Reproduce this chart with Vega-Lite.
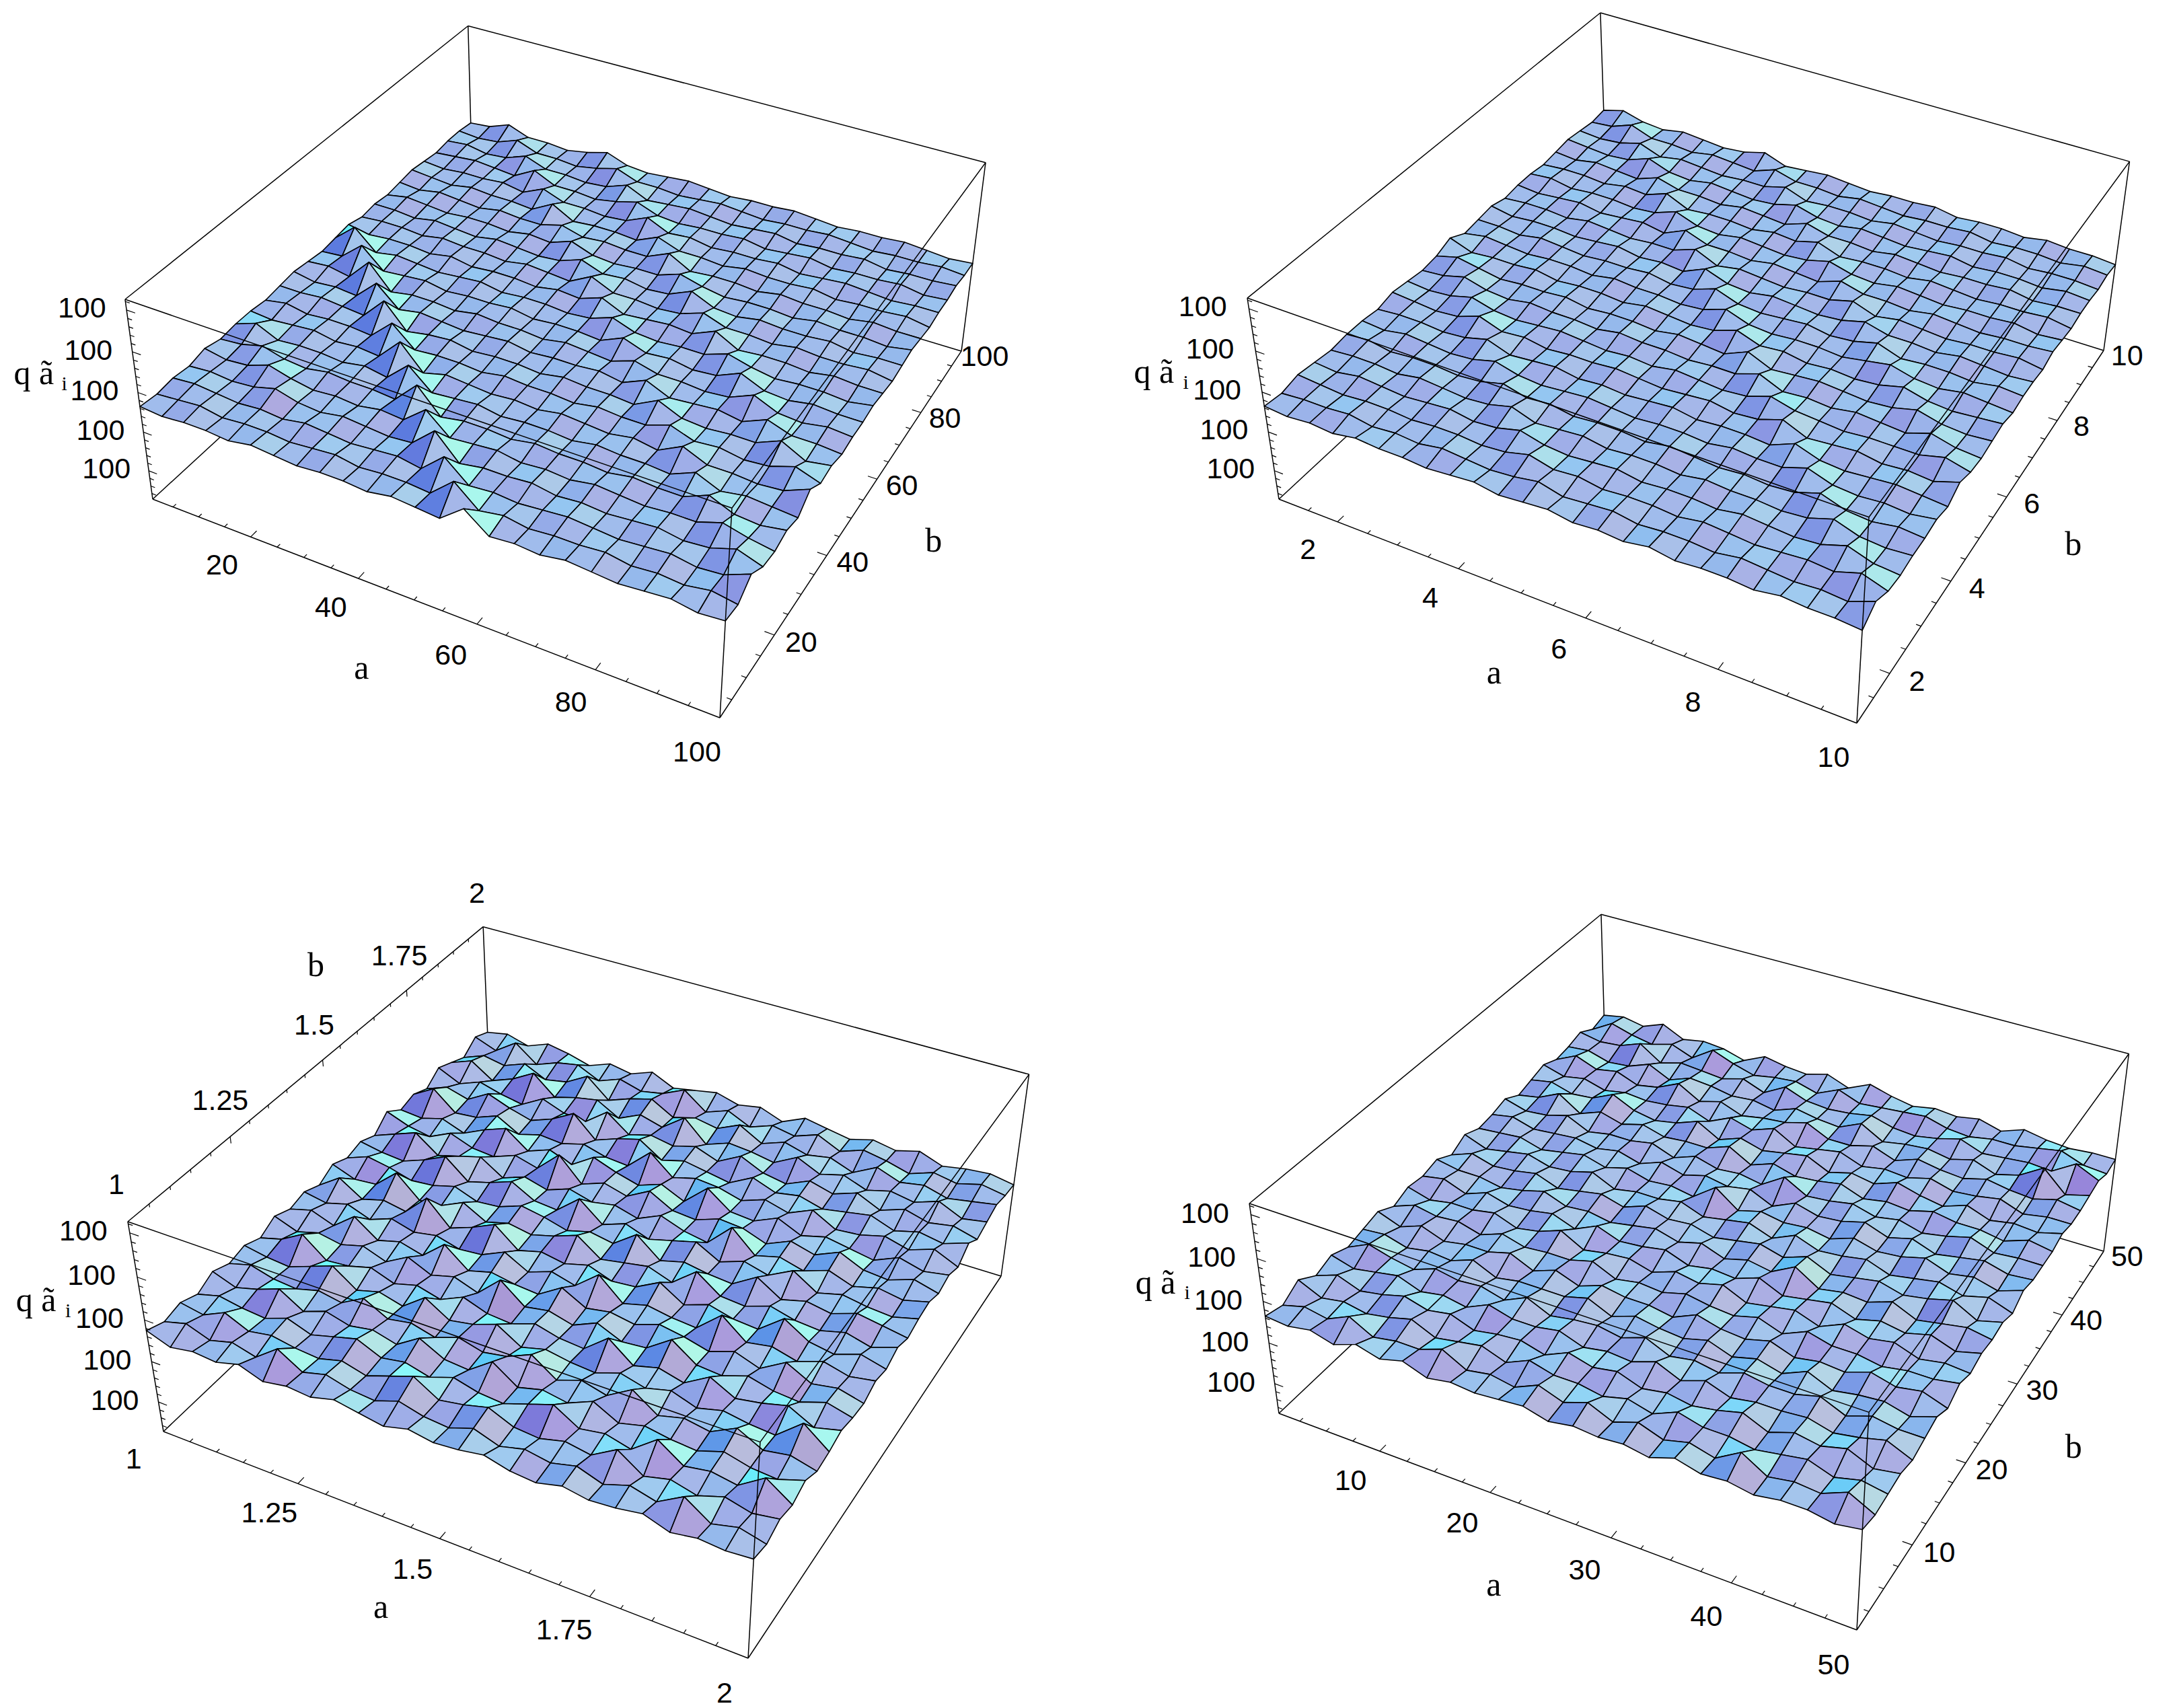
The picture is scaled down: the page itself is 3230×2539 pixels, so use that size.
{"$schema":"https://vega.github.io/schema/vega-lite/v6.json","width":3230,"height":2539,"padding":0,"autosize":{"type":"none"},"background":"white","config":{"view":{"stroke":null}},
"datasets":{
"cams":[{"p":1,"m":[725.2,627.6,-52.8,227,207.5,-372.5,-325.1,742,-0.1101,0.2156,-0.0632]},{"p":2,"m":[592.8,989.1,-174,1901,229.3,-391,-329.3,742,-0.09644,0.21027,-0.0685]},{"p":3,"m":[753.4,631.6,-67,243,80.7,-133.3,-445.5,2128,-0.10398,0.19802,-0.0735]},{"p":4,"m":[586.9,991.7,-165.4,1901,83.1,-114.4,-429,2101,-0.09859,0.21134,-0.0654]}],
"edges":[{"f":0,"u":0,"v":0,"w":0,"U":1,"V":0,"W":0},{"f":0,"u":1,"v":0,"w":0,"U":1,"V":1,"W":0},{"f":0,"u":0,"v":0,"w":0,"U":0,"V":1,"W":0},{"f":0,"u":0,"v":1,"w":0,"U":1,"V":1,"W":0},{"f":0,"u":0,"v":0,"w":0,"U":0,"V":0,"W":1},{"f":0,"u":1,"v":1,"w":0,"U":1,"V":1,"W":1},{"f":0,"u":0,"v":1,"w":0,"U":0,"V":1,"W":1},{"f":0,"u":0,"v":0,"w":1,"U":0,"V":1,"W":1},{"f":0,"u":0,"v":1,"w":1,"U":1,"V":1,"W":1},{"f":1,"u":0,"v":0,"w":1,"U":1,"V":0,"W":1},{"f":1,"u":1,"v":0,"w":1,"U":1,"V":1,"W":1},{"f":1,"u":1,"v":0,"w":0,"U":1,"V":0,"W":1}],
"ticks":[{"ps":[1,4],"ax":"a","k":2,"t":[0.19,0.39,0.6,0.8]},{"ps":[1,4],"ax":"a","k":1,"t":[0.04,0.09,0.14,0.24,0.29,0.34,0.44,0.49,0.54,0.65,0.7,0.75,0.85,0.9,0.95]},{"ps":[1,4],"ax":"b","k":2,"t":[0.19,0.39,0.6,0.8]},{"ps":[1,4],"ax":"b","k":1,"t":[0.04,0.09,0.14,0.24,0.29,0.34,0.44,0.49,0.54,0.65,0.7,0.75,0.85,0.9,0.95]},{"ps":[2],"ax":"a","k":2,"t":[0.111,0.333,0.556,0.778]},{"ps":[2],"ax":"a","k":1,"t":[0.056,0.167,0.222,0.278,0.389,0.444,0.5,0.611,0.667,0.722,0.833,0.889,0.944]},{"ps":[2],"ax":"b","k":2,"t":[0.111,0.333,0.556,0.778]},{"ps":[2],"ax":"b","k":1,"t":[0.056,0.167,0.222,0.278,0.389,0.444,0.5,0.611,0.667,0.722,0.833,0.889,0.944]},{"ps":[3],"ax":"a","k":2,"t":[0.25,0.5,0.75]},{"ps":[3],"ax":"a","k":1,"t":[0.05,0.1,0.15,0.2,0.3,0.35,0.4,0.45,0.55,0.6,0.65,0.7,0.8,0.85,0.9,0.95]},{"ps":[3],"ax":"c","k":2,"t":[0.25,0.5,0.75]},{"ps":[3],"ax":"c","k":1,"t":[0.05,0.1,0.15,0.2,0.3,0.35,0.4,0.45,0.55,0.6,0.65,0.7,0.8,0.85,0.9,0.95]},{"ps":[1,2,3,4],"ax":"z","k":2,"t":[0.15,0.35,0.55,0.75,0.95]},{"ps":[1,2,3,4],"ax":"z","k":1,"t":[0.03,0.07,0.11,0.19,0.23,0.27,0.31,0.39,0.43,0.47,0.51,0.59,0.63,0.67,0.71,0.79,0.83,0.87,0.91,0.99]}],
"labels":[{"p":1,"ax":"a","t":0.19,"s":"20"},{"p":1,"ax":"a","t":0.39,"s":"40"},{"p":1,"ax":"a","t":0.6,"s":"60"},{"p":1,"ax":"a","t":0.8,"s":"80"},{"p":1,"ax":"a","t":1,"s":"100"},{"p":1,"ax":"b","t":0.19,"s":"20"},{"p":1,"ax":"b","t":0.39,"s":"40"},{"p":1,"ax":"b","t":0.6,"s":"60"},{"p":1,"ax":"b","t":0.8,"s":"80"},{"p":1,"ax":"b","t":1,"s":"100"},{"p":2,"ax":"a","t":0.111,"s":"2"},{"p":2,"ax":"a","t":0.333,"s":"4"},{"p":2,"ax":"a","t":0.556,"s":"6"},{"p":2,"ax":"a","t":0.778,"s":"8"},{"p":2,"ax":"a","t":1,"s":"10"},{"p":2,"ax":"b","t":0.111,"s":"2"},{"p":2,"ax":"b","t":0.333,"s":"4"},{"p":2,"ax":"b","t":0.556,"s":"6"},{"p":2,"ax":"b","t":0.778,"s":"8"},{"p":2,"ax":"b","t":1,"s":"10"},{"p":3,"ax":"a","t":0,"s":"1"},{"p":3,"ax":"a","t":0.25,"s":"1.25"},{"p":3,"ax":"a","t":0.5,"s":"1.5"},{"p":3,"ax":"a","t":0.75,"s":"1.75"},{"p":3,"ax":"a","t":1,"s":"2"},{"p":3,"ax":"c","t":0,"s":"1"},{"p":3,"ax":"c","t":0.25,"s":"1.25"},{"p":3,"ax":"c","t":0.5,"s":"1.5"},{"p":3,"ax":"c","t":0.75,"s":"1.75"},{"p":3,"ax":"c","t":1,"s":"2"},{"p":4,"ax":"a","t":0.19,"s":"10"},{"p":4,"ax":"a","t":0.39,"s":"20"},{"p":4,"ax":"a","t":0.6,"s":"30"},{"p":4,"ax":"a","t":0.8,"s":"40"},{"p":4,"ax":"a","t":1,"s":"50"},{"p":4,"ax":"b","t":0.19,"s":"10"},{"p":4,"ax":"b","t":0.39,"s":"20"},{"p":4,"ax":"b","t":0.6,"s":"30"},{"p":4,"ax":"b","t":0.8,"s":"40"},{"p":4,"ax":"b","t":1,"s":"50"},{"p":1,"ax":"z","t":0.95,"s":"100"},{"p":1,"ax":"z","t":0.75,"s":"100"},{"p":1,"ax":"z","t":0.55,"s":"100"},{"p":1,"ax":"z","t":0.35,"s":"100"},{"p":1,"ax":"z","t":0.15,"s":"100"},{"p":2,"ax":"z","t":0.95,"s":"100"},{"p":2,"ax":"z","t":0.75,"s":"100"},{"p":2,"ax":"z","t":0.55,"s":"100"},{"p":2,"ax":"z","t":0.35,"s":"100"},{"p":2,"ax":"z","t":0.15,"s":"100"},{"p":3,"ax":"z","t":0.95,"s":"100"},{"p":3,"ax":"z","t":0.75,"s":"100"},{"p":3,"ax":"z","t":0.55,"s":"100"},{"p":3,"ax":"z","t":0.35,"s":"100"},{"p":3,"ax":"z","t":0.15,"s":"100"},{"p":4,"ax":"z","t":0.95,"s":"100"},{"p":4,"ax":"z","t":0.75,"s":"100"},{"p":4,"ax":"z","t":0.55,"s":"100"},{"p":4,"ax":"z","t":0.35,"s":"100"},{"p":4,"ax":"z","t":0.15,"s":"100"}],
"titles":[{"p":1,"ax":"a","s":"a"},{"p":1,"ax":"b","s":"b"},{"p":1,"ax":"z","s":"q  ã"},{"p":1,"ax":"i","s":"i"},{"p":2,"ax":"a","s":"a"},{"p":2,"ax":"b","s":"b"},{"p":2,"ax":"z","s":"q  ã"},{"p":2,"ax":"i","s":"i"},{"p":3,"ax":"a","s":"a"},{"p":3,"ax":"c","s":"b"},{"p":3,"ax":"z","s":"q  ã"},{"p":3,"ax":"i","s":"i"},{"p":4,"ax":"a","s":"a"},{"p":4,"ax":"b","s":"b"},{"p":4,"ax":"z","s":"q  ã"},{"p":4,"ax":"i","s":"i"}],
"mesh":[47,48,52,48,48,47,49,52,48,47,48,49,48,47,48,48,49,48,47,48,48,49,48,47,48,
48,47,48,52,48,48,47,49,52,48,48,47,48,49,48,47,48,48,49,48,47,48,48,49,48,
48,49,47,48,52,48,48,47,48,52,47,48,49,48,47,48,49,47,48,48,49,47,48,48,49,
47,48,49,48,47,53,48,48,47,49,52,48,47,48,48,49,47,48,49,47,48,48,49,47,48,
48,47,48,48,49,47,52,48,48,47,48,53,48,49,47,48,48,49,47,48,49,48,47,48,48,
49,48,47,49,48,48,47,53,47,48,48,47,52,48,48,47,49,48,48,49,47,48,48,49,47,
48,47,49,48,47,49,48,48,51,48,49,48,48,53,47,48,48,47,49,48,48,47,49,48,48,
47,49,48,47,48,48,47,49,48,52,48,47,48,48,52,49,47,48,48,47,49,48,48,47,49,
48,48,47,49,48,47,49,48,47,48,52,48,49,47,48,53,48,47,49,48,48,49,47,48,48,
47,48,48,47,49,48,48,47,49,48,47,53,48,48,47,48,52,48,48,47,49,48,48,49,47,
49,47,48,48,47,49,47,48,48,47,49,48,52,47,48,49,48,53,47,48,48,47,49,48,48,
48,57,47,49,48,47,48,49,47,48,48,47,48,52,48,47,48,48,52,49,47,48,48,47,49,
47,48,57,47,48,49,47,48,48,49,47,48,48,47,52,48,49,47,48,53,48,47,49,48,48,
48,49,47,58,46,48,48,47,49,48,48,47,49,48,47,51,48,48,47,48,53,48,47,49,48,
49,47,48,47,57,47,49,48,47,48,49,47,48,48,49,47,52,47,48,49,47,52,48,48,47,
48,48,49,48,47,58,46,48,49,47,48,48,47,49,48,48,47,53,48,47,48,48,53,47,49,
47,49,47,48,48,47,57,47,48,48,47,49,48,48,47,49,48,48,52,48,49,47,48,52,48,
48,47,48,49,47,48,47,58,46,49,48,47,48,47,49,48,47,49,47,53,48,48,47,48,53,
48,52,47,48,48,47,49,47,57,47,48,49,47,48,48,47,49,48,48,47,52,47,49,48,47,
47,48,51,48,47,49,48,48,47,58,46,48,48,47,49,48,48,47,49,48,48,53,48,47,49,
49,47,48,52,49,47,48,47,49,48,57,47,48,49,47,48,47,49,48,47,48,48,52,49,47,
47,48,47,48,51,48,47,49,48,47,48,58,46,48,48,49,47,48,47,48,49,47,48,52,48,
48,49,48,47,48,47,49,48,47,48,49,47,57,47,48,47,48,49,48,47,48,49,47,48,53,
47,48,49,47,48,48,47,48,49,47,48,48,47,57,47,49,47,48,48,49,47,48,47,49,47,
48,47,48,48,47,49,48,47,48,48,47,49,48,47,56,47,48,47,49,48,47,48,49,47,48,
48,51,48,47,49,48,47,48,51,47,48,49,48,47,48,48,49,47,48,48,47,49,48,48,47,
47,48,52,48,48,47,49,48,47,51,48,48,47,49,48,47,48,48,49,47,48,48,47,49,48,
48,47,48,51,47,49,48,47,48,48,51,47,48,48,47,49,48,47,48,48,49,47,48,48,47,
49,48,47,48,52,48,47,49,48,47,48,51,48,47,49,48,47,48,49,47,48,48,47,49,48,
48,47,49,48,47,51,48,48,47,49,48,47,51,48,48,47,49,48,47,48,48,49,47,48,48,
47,48,48,47,49,48,52,47,48,48,47,49,48,51,47,48,48,47,49,48,47,48,48,49,47,
48,49,47,48,48,47,48,52,48,47,49,48,47,48,51,48,47,49,48,47,48,48,49,47,48,
48,47,48,49,47,48,49,47,52,48,48,47,49,48,47,51,48,48,47,49,48,47,48,48,49,
47,48,48,47,49,48,47,48,48,52,47,49,48,47,48,48,51,47,49,48,47,48,48,49,47,
49,47,48,48,47,48,49,47,48,47,52,48,47,49,48,47,48,51,48,48,47,49,48,47,48,
48,48,47,49,48,47,48,48,49,47,48,52,48,47,48,49,47,48,51,47,48,48,47,49,48,
47,49,48,47,48,48,47,49,48,48,47,48,52,48,47,48,48,47,49,51,48,47,49,48,47,
51,47,48,48,49,47,48,48,47,49,48,47,48,52,48,49,47,48,47,48,51,48,47,48,49,
48,51,49,47,48,48,49,47,48,48,47,49,48,47,52,47,48,49,48,47,48,51,48,47,48,
47,48,51,48,47,49,48,48,47,49,48,48,47,48,48,52,47,48,47,49,48,47,51,48,47,
48,47,48,51,48,47,48,49,48,47,48,47,49,48,47,48,52,49,48,47,48,48,48,51,48,
49,48,47,48,52,48,49,47,48,48,49,48,47,48,49,47,48,52,47,48,49,47,48,47,51,
47,48,48,47,48,51,47,48,49,47,48,47,48,49,47,48,48,47,52,48,47,48,49,48,47,
48,47,49,48,47,48,51,48,47,48,49,48,47,48,48,47,49,48,48,52,48,47,48,47,49,
48,49,47,48,48,47,48,51,48,49,47,48,48,47,49,48,47,48,47,48,52,48,47,49,48,
47,48,48,47,49,48,47,48,51,47,48,49,47,48,48,47,49,48,48,47,48,52,48,47,48,
48,47,49,48,47,48,49,47,48,51,48,47,48,49,47,48,48,47,49,48,47,48,52,48,47,
49,48,47,48,48,47,48,48,47,48,51,48,49,47,48,48,47,49,48,47,48,49,48,52,48,
47,48,48,49,47,48,47,49,48,47,48,50,47,48,49,47,48,48,47,49,48,47,48,47,52,
48,47,48,47,49,48,48,47,48,49,47,48,49,47,48,47,49,47,48,48,47,49,48,48,47,
47,49,46,50,48,45,49,47,51,46,48,50,47,49,45,50,48,46,49,47,50,46,48,49,47,
50,46,53,45,49,51,46,50,47,49,54,46,50,45,49,47,51,46,50,48,45,49,47,50,48,
45,49,47,51,46,48,54,45,49,52,46,49,47,52,46,50,47,49,45,51,47,49,46,48,50,
48,52,45,49,55,46,49,51,45,50,47,55,45,49,48,46,52,47,50,46,49,47,51,46,48,
51,46,50,47,45,51,47,46,54,46,49,47,50,46,52,47,45,50,47,51,46,50,47,49,46,
46,50,47,53,49,46,50,56,46,50,53,46,49,47,45,51,47,49,46,48,50,46,49,47,51,
49,55,46,47,51,45,48,47,50,47,46,56,47,50,49,46,50,47,52,46,47,50,47,51,46,
47,46,49,45,50,54,46,50,46,53,49,46,50,45,55,47,46,51,46,49,47,45,50,47,49,
52,48,46,51,47,46,50,47,57,46,50,47,53,47,46,50,49,45,50,47,52,47,46,50,47,
46,50,54,46,49,52,45,49,46,50,47,49,46,51,47,45,56,46,49,46,50,46,49,47,50,
49,47,46,50,55,46,49,53,47,46,55,46,50,46,49,52,46,50,47,53,46,49,47,46,49,
47,51,49,46,47,50,46,47,51,49,46,49,47,55,46,49,47,46,53,46,49,47,51,49,47,
50,46,47,56,46,47,52,46,49,47,50,54,46,48,50,46,55,47,46,50,47,46,49,46,50,
46,53,46,49,47,57,46,50,55,46,49,47,50,46,47,53,46,50,47,46,55,48,46,50,47,
49,47,50,46,50,47,49,46,47,52,46,50,47,56,46,49,47,46,56,47,49,46,50,47,49,
47,50,46,54,46,49,46,55,46,49,47,46,53,47,49,47,51,49,46,50,46,53,47,49,46,
50,46,49,47,50,46,52,47,50,46,56,47,49,46,51,46,47,55,47,46,50,47,46,50,47,
46,49,55,46,47,50,46,49,46,51,47,46,50,47,46,55,46,49,46,53,47,49,52,46,49,
49,47,46,50,54,46,49,46,54,47,49,53,46,49,47,46,50,47,50,46,49,47,46,56,47,
47,50,47,46,49,47,53,47,49,46,50,47,49,54,46,50,47,54,46,49,47,53,47,49,46,
50,46,49,53,46,50,47,49,46,53,47,46,54,46,49,47,52,46,49,47,46,50,47,46,50,
46,49,47,46,50,46,49,52,47,49,46,50,47,46,50,54,47,49,46,55,47,49,47,55,47,
49,47,52,47,49,47,46,49,46,50,54,47,49,52,47,46,49,47,54,46,49,46,50,47,49,
47,50,46,49,46,54,47,50,47,46,50,47,46,50,46,49,47,50,46,50,47,54,46,49,46,
50,46,48,47,50,46,48,47,50,48,46,49,47,48,50,47,46,49,47,48,50,46,48,47,48,
48,50,48,52,47,49,48,45,50,48,47,50,46,51,48,46,48,47,49,46,50,48,47,48,48,
46,52,49,47,50,46,53,49,46,48,49,46,51,47,48,49,50,47,46,48,48,50,52,48,47,
50,48,49,53,46,49,48,47,50,46,52,48,47,48,50,47,46,48,51,47,48,49,48,55,50,
48,49,46,47,51,46,50,49,47,48,46,50,48,47,52,46,48,49,47,50,46,49,56,46,49,
47,52,48,50,46,48,53,47,50,46,48,49,52,47,47,50,46,50,48,47,50,48,47,50,48,
50,47,49,46,48,47,48,50,46,51,48,52,46,48,50,46,48,47,50,47,48,50,46,48,48,
48,50,47,48,53,48,46,48,52,46,50,47,49,51,46,49,47,51,48,46,50,46,48,47,50,
46,48,53,46,50,47,50,47,48,48,52,46,50,47,48,50,46,48,47,50,48,48,46,50,48,
50,47,48,51,46,48,48,50,46,50,47,48,46,53,47,48,50,47,49,46,48,51,47,48,48,
48,50,47,48,49,47,49,46,50,47,50,48,50,45,50,47,48,51,47,50,46,48,50,47,48,
47,48,49,46,48,50,47,50,47,48,46,54,46,49,47,48,46,50,47,48,51,47,49,46,50,
50,46,48,50,47,48,51,46,48,48,50,46,48,50,46,51,47,48,50,46,48,50,47,50,46,
46,50,47,48,50,46,48,50,47,51,48,49,46,48,50,47,51,46,48,50,47,49,52,46,49,
50,48,48,46,48,51,47,48,46,48,50,47,50,46,49,47,53,46,48,47,51,46,48,50,48,
48,50,46,50,47,48,50,46,51,47,48,50,46,48,47,51,46,48,50,46,49,47,50,46,49,
49,46,48,48,50,46,48,52,46,48,49,46,50,48,51,46,48,50,46,51,48,50,46,48,47,
46,50,48,49,46,50,47,48,48,51,46,48,47,50,48,47,50,46,51,48,48,46,48,48,50,
50,46,50,46,48,48,51,46,50,46,50,48,48,46,51,48,47,50,46,48,47,51,48,50,46,
48,49,46,48,47,51,46,48,48,48,51,46,50,48,47,50,46,49,46,51,46,48,49,46,50,
46,51,48,46,50,48,49,46,51,46,48,49,47,51,46,48,46,50,48,48,51,46,50,48,48,
49,46,48,50,46,48,46,51,48,48,50,46,48,47,51,46,50,46,48,48,49,46,48,51,46,
46,50,46,48,51,48,50,46,48,49,46,51,48,50,46,48,46,48,51,46,50,48,51,46,48,
51,46,48,46,48,51,46,48,50,46,51,48,48,46,49,46,51,48,48,46,48,50,46,49,47,
46,49,47,52,46,48,48,52,46,48,46,51,47,51,46,50,46,49,46,53,46,48,47,52,46,
48,47,49,46,50,47,50,46,48,47,48,49,46,48,47,48,46,50,47,48,46,48,48,46,48]},
"encoding":{"x":{"field":"x","type":"quantitative","scale":{"domain":[0,3230],"nice":false,"zero":false},"axis":null},"y":{"field":"y","type":"quantitative","scale":{"domain":[2539,0],"nice":false,"zero":false},"axis":null}},
"layer":[
{"data":{"name":"edges"},"transform":[{"filter":"datum.f==0"},{"calculate":"[1,2,3,4]","as":"p"},{"flatten":["p"]},{"lookup":"p","from":{"data":{"name":"cams"},"key":"p","fields":["m"]}},
{"calculate":"(datum.m[0]*datum.u+datum.m[1]*datum.v+datum.m[2]*datum.w+datum.m[3])/(datum.m[8]*datum.u+datum.m[9]*datum.v+datum.m[10]*datum.w+1)","as":"x"},{"calculate":"(datum.m[4]*datum.u+datum.m[5]*datum.v+datum.m[6]*datum.w+datum.m[7])/(datum.m[8]*datum.u+datum.m[9]*datum.v+datum.m[10]*datum.w+1)","as":"y"},{"calculate":"(datum.m[0]*datum.U+datum.m[1]*datum.V+datum.m[2]*datum.W+datum.m[3])/(datum.m[8]*datum.U+datum.m[9]*datum.V+datum.m[10]*datum.W+1)","as":"x2"},{"calculate":"(datum.m[4]*datum.U+datum.m[5]*datum.V+datum.m[6]*datum.W+datum.m[7])/(datum.m[8]*datum.U+datum.m[9]*datum.V+datum.m[10]*datum.W+1)","as":"y2"}],
"mark":{"type":"rule","stroke":"black","strokeWidth":1.5},"encoding":{"x2":{"field":"x2"},"y2":{"field":"y2"}}},
{"data":{"name":"mesh"},"transform":[{"window":[{"op":"row_number","as":"idx"}]},{"calculate":"floor((datum.idx-1)/625)+1","as":"p"},{"calculate":"(datum.idx-1)%625","as":"r"},{"calculate":"datum.r%25","as":"i"},{"calculate":"24-floor(datum.r/25)","as":"j"},{"calculate":"datum.i/24","as":"u"},{"calculate":"datum.j/24","as":"v"},{"calculate":"datum.data/100","as":"w"},{"lookup":"p","from":{"data":{"name":"cams"},"key":"p","fields":["m"]}},
{"calculate":"(datum.m[0]*datum.u+datum.m[1]*datum.v+datum.m[2]*datum.w+datum.m[3])/(datum.m[8]*datum.u+datum.m[9]*datum.v+datum.m[10]*datum.w+1)","as":"x"},{"calculate":"(datum.m[4]*datum.u+datum.m[5]*datum.v+datum.m[6]*datum.w+datum.m[7])/(datum.m[8]*datum.u+datum.m[9]*datum.v+datum.m[10]*datum.w+1)","as":"y"},
{"calculate":"[0,1,2,3]","as":"c"},{"flatten":["c"]},
{"calculate":"datum.i-((datum.c==1||datum.c==2)?1:0)","as":"ci"},{"calculate":"datum.j-((datum.c>=2)?1:0)","as":"cj"},{"filter":"datum.ci>=0&&datum.ci<24&&datum.cj>=0&&datum.cj<24"},
{"calculate":"datum.p*10000+datum.ci*100+datum.cj","as":"cid"},
{"calculate":"((datum.c==1||datum.c==2)?1:-1)*datum.w","as":"wa"},{"calculate":"((datum.c>=2)?1:-1)*datum.w","as":"wb"},
{"joinaggregate":[{"op":"sum","field":"wa","as":"sa"},{"op":"sum","field":"wb","as":"sb"}],"groupby":["cid"]},
{"calculate":"sqrt(23.04*datum.sa*datum.sa+23.04*datum.sb*datum.sb+1)","as":"len"},{"calculate":"-4.8*datum.sa/datum.len","as":"nx"},{"calculate":"-4.8*datum.sb/datum.len","as":"ny"},{"calculate":"1/datum.len","as":"nz"},
{"calculate":"0.879*datum.nx+0.476*datum.ny","as":"nr"},{"calculate":"-0.281*datum.nx+0.519*datum.ny+0.806*datum.nz","as":"nu"},{"calculate":"0.384*datum.nx-0.709*datum.ny+0.591*datum.nz","as":"nf"},
{"calculate":"'rgb('+round(255*clamp(0.627+0.7*(0.5*datum.nr+0.69*(datum.nu-0.806)+0.87*(datum.nf-0.591)),0.36,0.9))+','+round(255*clamp(0.737+0.7*(0.57*datum.nr+0.16*(datum.nu-0.806)-0.64*(datum.nf-0.591)),0.46,0.97))+','+round(255*clamp(0.925+0.7*(0.045*(datum.nu-0.806)-0.266*(datum.nf-0.591)-0.1*abs(datum.nr)),0.8,0.98))+')'","as":"col"}],
"mark":{"type":"line","interpolate":"linear-closed","stroke":"black","strokeWidth":1.6,"strokeJoin":"round","filled":true},"encoding":{"fill":{"field":"col","type":"nominal","scale":null},"detail":{"field":"cid","type":"nominal"},"order":{"field":"c","type":"quantitative"}}},
{"data":{"name":"edges"},"transform":[{"filter":"datum.f==1"},{"calculate":"[1,2,3,4]","as":"p"},{"flatten":["p"]},{"lookup":"p","from":{"data":{"name":"cams"},"key":"p","fields":["m"]}},
{"calculate":"(datum.m[0]*datum.u+datum.m[1]*datum.v+datum.m[2]*datum.w+datum.m[3])/(datum.m[8]*datum.u+datum.m[9]*datum.v+datum.m[10]*datum.w+1)","as":"x"},{"calculate":"(datum.m[4]*datum.u+datum.m[5]*datum.v+datum.m[6]*datum.w+datum.m[7])/(datum.m[8]*datum.u+datum.m[9]*datum.v+datum.m[10]*datum.w+1)","as":"y"},{"calculate":"(datum.m[0]*datum.U+datum.m[1]*datum.V+datum.m[2]*datum.W+datum.m[3])/(datum.m[8]*datum.U+datum.m[9]*datum.V+datum.m[10]*datum.W+1)","as":"x2"},{"calculate":"(datum.m[4]*datum.U+datum.m[5]*datum.V+datum.m[6]*datum.W+datum.m[7])/(datum.m[8]*datum.U+datum.m[9]*datum.V+datum.m[10]*datum.W+1)","as":"y2"}],
"mark":{"type":"rule","stroke":"black","strokeWidth":1.5},"encoding":{"x2":{"field":"x2"},"y2":{"field":"y2"}}},
{"data":{"name":"ticks"},"transform":[{"flatten":["ps"]},{"flatten":["t"]},{"calculate":"datum.ps","as":"p"},{"lookup":"p","from":{"data":{"name":"cams"},"key":"p","fields":["m"]}},
{"calculate":"datum.ax=='a'?datum.t:(datum.ax=='b'?1:0)","as":"u"},{"calculate":"(datum.ax=='b'||datum.ax=='c')?datum.t:0","as":"v"},{"calculate":"datum.ax=='z'?datum.t:(datum.ax=='c'?1:0)","as":"w"},
{"calculate":"datum.ax=='b'?1-0.008*datum.k:(datum.ax=='z'?0.008*datum.k:datum.u)","as":"U"},{"calculate":"datum.ax=='a'?0.008*datum.k:datum.v","as":"V"},{"calculate":"datum.ax=='c'?1-0.015*datum.k:datum.w","as":"W"},
{"calculate":"(datum.m[0]*datum.u+datum.m[1]*datum.v+datum.m[2]*datum.w+datum.m[3])/(datum.m[8]*datum.u+datum.m[9]*datum.v+datum.m[10]*datum.w+1)","as":"x"},{"calculate":"(datum.m[4]*datum.u+datum.m[5]*datum.v+datum.m[6]*datum.w+datum.m[7])/(datum.m[8]*datum.u+datum.m[9]*datum.v+datum.m[10]*datum.w+1)","as":"y"},{"calculate":"(datum.m[0]*datum.U+datum.m[1]*datum.V+datum.m[2]*datum.W+datum.m[3])/(datum.m[8]*datum.U+datum.m[9]*datum.V+datum.m[10]*datum.W+1)","as":"x2"},{"calculate":"(datum.m[4]*datum.U+datum.m[5]*datum.V+datum.m[6]*datum.W+datum.m[7])/(datum.m[8]*datum.U+datum.m[9]*datum.V+datum.m[10]*datum.W+1)","as":"y2"}],
"mark":{"type":"rule","stroke":"black","strokeWidth":1.2},"encoding":{"x2":{"field":"x2"},"y2":{"field":"y2"}}},
{"data":{"name":"labels"},"transform":[{"lookup":"p","from":{"data":{"name":"cams"},"key":"p","fields":["m"]}},
{"calculate":"datum.ax=='a'?datum.t:(datum.ax=='b'?1.042:(datum.ax=='c'?-0.01:-0.06))","as":"u"},{"calculate":"datum.ax=='a'?-0.075:(datum.ax=='b'?datum.t+0.003:(datum.ax=='c'?datum.t:-0.03))","as":"v"},{"calculate":"datum.ax=='z'?datum.t:(datum.ax=='c'?1.15:0)","as":"w"},
{"calculate":"(datum.m[0]*datum.u+datum.m[1]*datum.v+datum.m[2]*datum.w+datum.m[3])/(datum.m[8]*datum.u+datum.m[9]*datum.v+datum.m[10]*datum.w+1)","as":"x"},{"calculate":"(datum.m[4]*datum.u+datum.m[5]*datum.v+datum.m[6]*datum.w+datum.m[7])/(datum.m[8]*datum.u+datum.m[9]*datum.v+datum.m[10]*datum.w+1)","as":"y"}],
"mark":{"type":"text","font":"Liberation Sans","fontSize":43,"align":"center","baseline":"middle","fill":"black"},"encoding":{"text":{"field":"s"}}},
{"data":{"name":"titles"},"transform":[{"lookup":"p","from":{"data":{"name":"cams"},"key":"p","fields":["m"]}},
{"calculate":"datum.ax=='a'?0.5:(datum.ax=='b'?1.135:(datum.ax=='c'?-0.07:(datum.ax=='i'?-0.1:-0.14)))","as":"u"},{"calculate":"datum.ax=='a'?-0.16:(datum.ax=='b'?0.5:(datum.ax=='c'?0.6:(datum.ax=='i'?-0.05:-0.07)))","as":"v"},{"calculate":"datum.ax=='z'?0.63:(datum.ax=='i'?0.585:(datum.ax=='c'?1.25:0))","as":"w"},
{"calculate":"(datum.m[0]*datum.u+datum.m[1]*datum.v+datum.m[2]*datum.w+datum.m[3])/(datum.m[8]*datum.u+datum.m[9]*datum.v+datum.m[10]*datum.w+1)","as":"x"},{"calculate":"(datum.m[4]*datum.u+datum.m[5]*datum.v+datum.m[6]*datum.w+datum.m[7])/(datum.m[8]*datum.u+datum.m[9]*datum.v+datum.m[10]*datum.w+1)","as":"y"}],
"mark":{"type":"text","font":"Liberation Serif","align":"center","baseline":"middle","fill":"black"},"encoding":{"text":{"field":"s"},"size":{"condition":{"test":"datum.ax=='i'","value":30},"value":50}}}
]}
